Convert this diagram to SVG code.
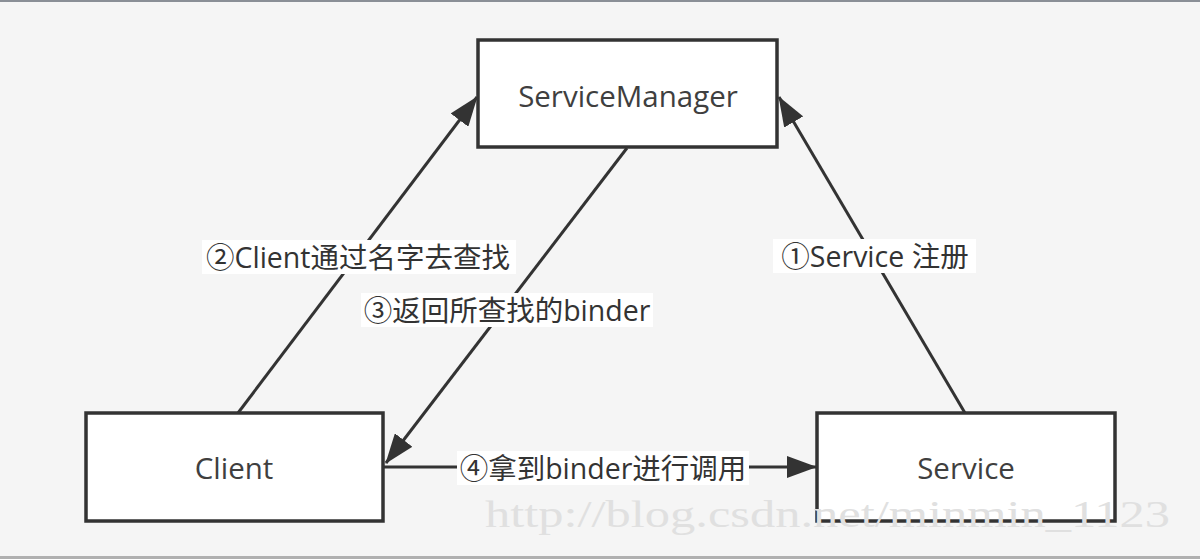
<svg xmlns="http://www.w3.org/2000/svg" width="1200" height="559" viewBox="0 0 1200 559">
<defs>
<style>
.box{fill:#ffffff;stroke:#333333;stroke-width:3.5}
.nt{font-family:"Open Sans","Noto Sans",sans-serif;font-size:29.5px;fill:#3f3f3f;text-anchor:middle;dominant-baseline:central}
.lbl{font-family:"Open Sans","Noto Sans CJK SC",sans-serif;font-size:28.5px;fill:#333333;text-anchor:middle;dominant-baseline:central}
.lblbg{fill:#ffffff}
.edge{stroke:#333333;stroke-width:3;fill:none;marker-end:url(#arr)}
.wm{font-family:"Liberation Serif",serif;font-size:38px;fill:#e0e0e0}
</style>
<marker id="arr" viewBox="0 0 30 22" refX="29" refY="11" markerWidth="30" markerHeight="22" markerUnits="userSpaceOnUse" orient="auto">
<path d="M0,0 L30,11 L0,22 Z" fill="#333333"/>
</marker>
</defs>
<rect x="0" y="0" width="1200" height="559" fill="#f5f5f5"/>
<rect x="0" y="0" width="1200" height="2" fill="#8a8f96"/>
<rect x="0" y="556" width="1200" height="3" fill="#b0b0b0"/>

<g id="connectors">
<line class="edge" x1="238" y1="413" x2="477" y2="97"/>
<line class="edge" x1="965" y1="413" x2="779" y2="97"/>
<line class="edge" x1="627" y1="148" x2="386" y2="463"/>
<line class="edge" x1="384" y1="467" x2="816" y2="467"/>
</g>

<g id="labels">
<rect class="lblbg" x="202" y="240" width="314" height="34"/>
<text class="lbl" x="358" y="257">②Client通过名字去查找</text>
<rect class="lblbg" x="361" y="293" width="292" height="34"/>
<text class="lbl" x="507" y="310">③返回所查找的binder</text>
<rect class="lblbg" x="773" y="239" width="203" height="34"/>
<text class="lbl" x="875" y="256">①Service 注册</text>
<rect class="lblbg" x="457" y="451" width="292" height="34"/>
<text class="lbl" x="603" y="468">④拿到binder进行调用</text>
</g>

<g id="node-servicemanager">
<rect class="box" x="478" y="40" width="299" height="107"/>
<text class="nt" x="628" y="95">ServiceManager</text>
</g>
<g id="node-client">
<rect class="box" x="86" y="413" width="297" height="108"/>
<text class="nt" x="234" y="467">Client</text>
</g>
<g id="node-service">
<rect class="box" x="817" y="413" width="298" height="108"/>
<text class="nt" x="966" y="467">Service</text>
</g>

<text class="wm" x="485" y="527" textLength="685" lengthAdjust="spacingAndGlyphs">http://blog.csdn.net/minmin_1123</text>
</svg>
